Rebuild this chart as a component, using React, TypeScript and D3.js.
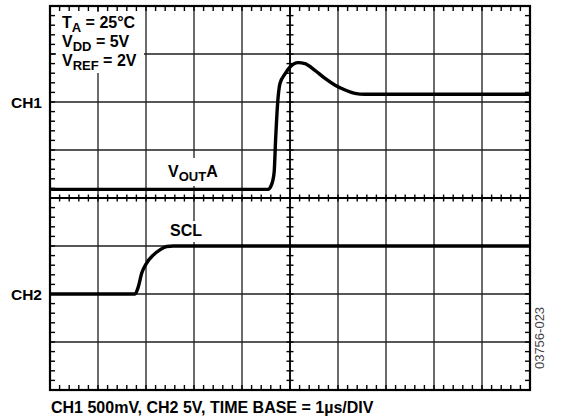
import React from 'react';
import * as d3 from 'd3';

// scope screen: 10 horizontal divisions (1 µs each), 8 vertical divisions
const timeDivs = d3.range(0, 11);
const levelDivs = d3.range(0, 9);

// CH1: VOUTA, in divisions above the bottom of the screen
const voutTime = [0, 4.54, 4.62, 4.67, 4.7, 4.74, 4.79, 4.9, 5.0, 5.17, 5.31, 5.52, 5.73, 5.94, 6.15, 6.35, 6.56, 10];
const voutLevel = [4.18, 4.18, 4.29, 4.54, 5.21, 5.94, 6.38, 6.59, 6.73, 6.82, 6.8, 6.66, 6.49, 6.35, 6.25, 6.18, 6.16, 6.16];

// CH2: SCL
const sclTime = [0, 1.77, 1.84, 1.91, 2.01, 2.15, 2.29, 2.43, 2.57, 10];
const sclLevel = [2.0, 2.0, 2.15, 2.43, 2.64, 2.81, 2.92, 2.99, 3.0, 3.0];

const channelLabels = ['CH1', 'CH2'];
const channelLevels = [6, 2];

const conditions = [
  ['T', 'A', ' = 25°C'],
  ['V', 'DD', ' = 5V'],
  ['V', 'REF', ' = 2V'],
];

const footer = 'CH1 500mV, CH2 5V, TIME BASE = 1µs/DIV';
const figureId = '03756-023';

const W = 569;
const H = 418;
const FONT = '"Liberation Sans", Arial, Helvetica, sans-serif';

export default function App() {
  const x = d3.scaleLinear().domain([0, 10]).range([50, 530]);
  const y = d3.scaleLinear().domain([0, 8]).range([390, 6]);

  const line = d3
    .line<[number, number]>()
    .x(d => x(d[0]))
    .y(d => y(d[1]))
    .curve(d3.curveMonotoneX);

  const voutPath = line(voutTime.map((t, i) => [t, voutLevel[i]]) as [number, number][]) || '';
  const sclPath = line(sclTime.map((t, i) => [t, sclLevel[i]]) as [number, number][]) || '';

  // minor ticks every 1/5 division
  const minorX = d3.range(0, 51).map(i => i * 0.2);
  const minorY = d3.range(0, 41).map(i => i * 0.2);
  const x0 = x(0);
  const x1 = x(10);
  const y0 = y(0);
  const y1 = y(8);
  const xc = x(5);
  const yc = y(4);
  const grid = '#1e1e1e';
  const tick = '#000';

  return (
    <svg
      width={W}
      height={H}
      style={{ position: 'absolute', left: 0, top: 0, background: '#fff' }}
      fontFamily={FONT}
    >
      {/* grid */}
      {timeDivs.map(t => (
        <line key={'gx' + t} x1={x(t)} x2={x(t)} y1={y1} y2={y0} stroke={grid} strokeWidth={1.3} />
      ))}
      {levelDivs.map(v => (
        <line key={'gy' + v} x1={x0} x2={x1} y1={y(v)} y2={y(v)} stroke={grid} strokeWidth={1.3} />
      ))}

      {/* centre axes */}
      <line x1={xc} x2={xc} y1={y1} y2={y0} stroke="#000" strokeWidth={1.7} />
      <line x1={x0} x2={x1} y1={yc} y2={yc} stroke="#000" strokeWidth={2} />

      {/* frame + inward ticks */}
      <rect x={x0} y={y1} width={x1 - x0} height={y0 - y1} fill="none" stroke="#000" strokeWidth={2.2} />
      {minorX.map((t, i) => (
        <line key={'ft' + i} x1={x(t)} x2={x(t)} y1={y1} y2={y1 + 5} stroke={tick} strokeWidth={1.4} />
      ))}
      {minorX.map((t, i) => (
        <line key={'fb' + i} x1={x(t)} x2={x(t)} y1={y0} y2={y0 - 5} stroke={tick} strokeWidth={1.4} />
      ))}
      {minorY.map((v, i) => (
        <line key={'fl' + i} x1={x0} x2={x0 + 5} y1={y(v)} y2={y(v)} stroke={tick} strokeWidth={1.4} />
      ))}
      {minorY.map((v, i) => (
        <line key={'fr' + i} x1={x1} x2={x1 - 5} y1={y(v)} y2={y(v)} stroke={tick} strokeWidth={1.4} />
      ))}

      {/* label backgrounds */}
      <rect x={56} y={12} width={88} height={61} fill="#fff" />
      <rect x={165} y={158} width={62} height={28} fill="#fff" />
      <rect x={166} y={221} width={40} height={21} fill="#fff" />

      {/* traces */}
      <path d={voutPath} fill="none" stroke="#000" strokeWidth={3.4} strokeLinejoin="round" />
      <path d={sclPath} fill="none" stroke="#000" strokeWidth={3.4} strokeLinejoin="round" />

      {/* centre ticks */}
      {minorX.map((t, i) => (
        <line key={'cx' + i} x1={x(t)} x2={x(t)} y1={yc - 3.5} y2={yc + 3.5} stroke={tick} strokeWidth={1.4} />
      ))}
      {minorY.map((v, i) => (
        <line key={'cy' + i} x1={xc - 3.5} x2={xc + 3.5} y1={y(v)} y2={y(v)} stroke={tick} strokeWidth={1.4} />
      ))}

      {/* text */}
      <g fontWeight="bold" fontSize={16} fill="#000">
        {conditions.map((c, i) => (
          <text key={c[1]} x={62} y={28 + i * 19}>
            {c[0]}
            <tspan fontSize={13} dy={4}>{c[1]}</tspan>
            <tspan dy={-4}>{c[2]}</tspan>
          </text>
        ))}
        {channelLabels.map((c, i) => (
          <text key={c} x={42} y={y(channelLevels[i]) + 6} textAnchor="end" fontSize={15.5}>
            {c}
          </text>
        ))}
        <text x={168} y={177}>
          V<tspan fontSize={13} dy={4}>OUT</tspan>
          <tspan dy={-4}>A</tspan>
        </text>
        <text x={170} y={236}>SCL</text>
        <text x={51} y={413}>{footer}</text>
      </g>
      <text
        transform="translate(544,338) rotate(-90)"
        textAnchor="middle"
        fontSize={13}
        fill="#444"
      >
        {figureId}
      </text>
    </svg>
  );
}
